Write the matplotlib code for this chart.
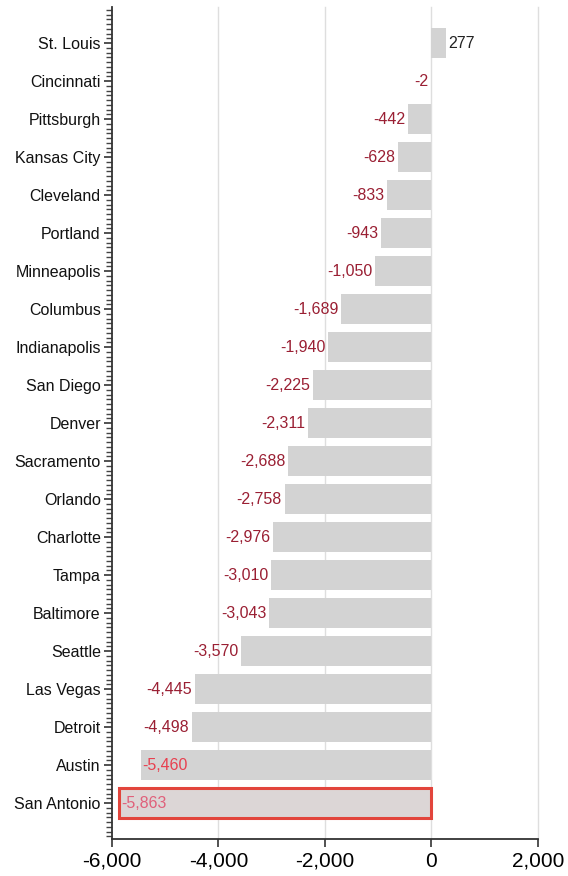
import matplotlib
matplotlib.use('Agg')
import matplotlib.pyplot as plt
from matplotlib.ticker import MultipleLocator, FuncFormatter
import numpy as np

plt.rcParams['font.family'] = ['Liberation Sans', 'DejaVu Sans']

cities = ['St. Louis', 'Cincinnati', 'Pittsburgh', 'Kansas City', 'Cleveland',
          'Portland', 'Minneapolis', 'Columbus', 'Indianapolis', 'San Diego',
          'Denver', 'Sacramento', 'Orlando', 'Charlotte', 'Tampa', 'Baltimore',
          'Seattle', 'Las Vegas', 'Detroit', 'Austin', 'San Antonio']
values = [277, -2, -442, -628, -833, -943, -1050, -1689, -1940, -2225,
          -2311, -2688, -2758, -2976, -3010, -3043, -3570, -4445, -4498,
          -5460, -5863]
x_ticks = [-6000, -4000, -2000, 0, 2000]

BAR = '#d3d3d3'
NEG = '#9a1f33'

fig = plt.figure(figsize=(5.68, 8.76), dpi=100)
ax = fig.add_axes([0.197, 0.042, 0.75, 0.950])

y = np.arange(len(cities))
ax.set_xlim(-6000, 2000)
ax.set_ylim(len(cities) - 0.05, -0.95)

for gx in x_ticks[1:]:
    ax.axvline(gx, color='#dedede', lw=1, zorder=0, clip_on=False)

bars = ax.barh(y, values, height=0.8, color=BAR, edgecolor='none', zorder=2)
# highlight the largest drop
bars[-1].set_facecolor('#dcd6d6')
bars[-1].set_edgecolor('#e2453c')
bars[-1].set_linewidth(2.2)

for i, v in enumerate(values):
    txt = f'{v:,}'
    if v >= 0:
        ax.text(v + 40, i, txt, ha='left', va='center', fontsize=11.5, color='#222222', zorder=3)
    elif cities[i] == 'Austin':
        ax.text(v + 30, i, txt, ha='left', va='center', fontsize=11.5, color='#e8404f', zorder=3)
    elif cities[i] == 'San Antonio':
        ax.text(v + 30, i, txt, ha='left', va='center', fontsize=11.5, color='#e0607a', zorder=3)
    else:
        ax.text(v - 50, i, txt, ha='right', va='center', fontsize=11.5, color=NEG, zorder=3)

ax.set_yticks(y)
ax.set_yticklabels(cities, fontsize=11.5, color='#111111')
ax.yaxis.set_minor_locator(MultipleLocator(0.125))
ax.tick_params(axis='y', which='major', length=6, width=1.2, color='#333333', pad=2)
ax.tick_params(axis='y', which='minor', length=4, width=1, color='#444444')

ax.set_xticks(x_ticks)
ax.xaxis.set_major_formatter(FuncFormatter(lambda v, p: f'{int(v):,}'))
ax.tick_params(axis='x', which='major', length=6, width=1.2, labelsize=15, color='#333333', pad=3)

for s in ['top', 'right']:
    ax.spines[s].set_visible(False)
for s in ['left', 'bottom']:
    ax.spines[s].set_color('#333333')
    ax.spines[s].set_linewidth(1.3)

fig.savefig('out.png', dpi=100)
